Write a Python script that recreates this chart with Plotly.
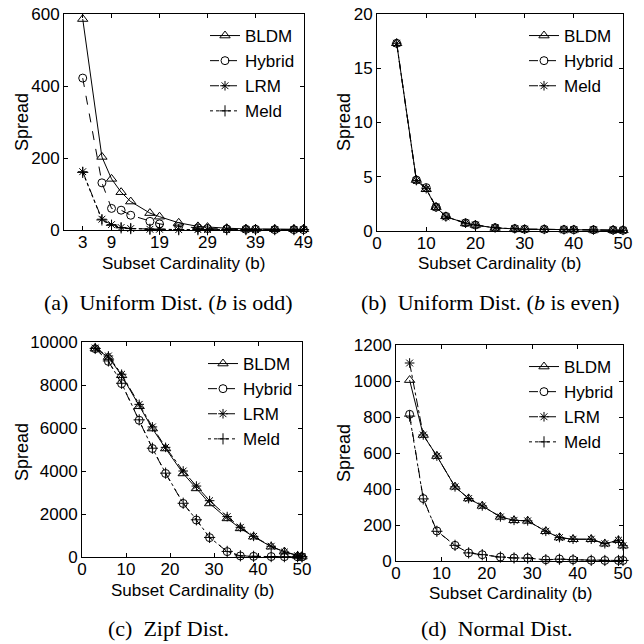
import plotly.graph_objects as go

# ---------------- data ----------------
x_odd = [3, 7, 9, 11, 13, 17, 19, 23, 27, 29, 33, 37, 39, 43, 47, 49]
a_bldm = [586, 203, 142, 105, 79, 47, 37, 20, 10, 8, 5, 3, 3, 2, 2, 2]
a_hybrid = [422, 131, 60, 55, 41, 24, 17, 10, 6, 4, 3, 2, 2, 1, 1, 1]
a_lrm = [162, 30, 15, 7, 4, 2, 2, 1, 1, 1, 1, 1, 1, 1, 1, 1]
a_meld = [160, 28, 13, 6, 4, 2, 2, 1, 1, 1, 1, 1, 1, 1, 1, 1]

x_even = [4, 8, 10, 12, 14, 18, 20, 24, 28, 30, 34, 38, 40, 44, 48, 50]
b_bldm = [17.3, 4.7, 3.85, 2.2, 1.35, 0.7, 0.55, 0.28, 0.2, 0.15, 0.15, 0.12, 0.12, 0.1, 0.08, 0.06]
b_hybrid = [17.3, 4.7, 4.0, 2.2, 1.35, 0.75, 0.55, 0.3, 0.22, 0.17, 0.16, 0.13, 0.12, 0.11, 0.09, 0.07]
b_meld = [17.3, 4.65, 3.9, 2.2, 1.3, 0.72, 0.55, 0.29, 0.21, 0.16, 0.15, 0.12, 0.12, 0.1, 0.08, 0.06]

x_b = [3, 6, 9, 13, 16, 19, 23, 26, 29, 33, 36, 39, 43, 46, 49, 50]
c_bldm = [9690, 9300, 8450, 7010, 5975, 5046, 3885, 3190, 2490, 1795, 1330, 944, 480, 250, 50, 15]
c_hybrid = [9690, 9100, 8065, 6360, 5046, 3885, 2490, 1720, 900, 250, 50, 30, 20, 15, 10, 5]
c_lrm = [9720, 9350, 8500, 7100, 6050, 5100, 4000, 3300, 2620, 1880, 1380, 960, 500, 230, 60, 20]
c_meld = [9700, 9120, 8080, 6380, 5060, 3900, 2500, 1730, 910, 260, 55, 30, 20, 15, 10, 5]

d_bldm = [1005, 700, 583, 412, 347, 306, 245, 226, 223, 165, 130, 121, 121, 96, 115, 85]
d_hybrid = [815, 347, 167, 87, 45, 35, 22, 17, 17, 7, 11, 7, 4, 3, 3, 3]
d_lrm = [1100, 700, 583, 412, 347, 306, 245, 226, 223, 165, 130, 121, 121, 96, 115, 85]
d_meld = [805, 345, 165, 87, 45, 35, 22, 17, 16, 7, 10, 7, 4, 3, 3, 3]

captions = ["(a)  Uniform Dist. (<i>b</i> is odd)", "(b)  Uniform Dist. (<i>b</i> is even)",
            "(c)  Zipf Dist.", "(d)  Normal Dist."]
x_title = "Subset Cardinality (b)"
y_title = "Spread"

# ---------------- styles / layout helpers ----------------
STY = {
    "BLDM": dict(dash="solid", symbol="triangle-up-open", size=9),
    "Hybrid": dict(dash="dash", symbol="circle-open", size=8),
    "LRM": dict(dash="dashdot", symbol="asterisk-open", size=8),
    "Meld": dict(dash="dot", symbol="cross-thin-open", size=8),
}
SANS = "Liberation Sans, Arial, sans-serif"
SERIF = "Liberation Serif, Times New Roman, serif"
W = 644
OFF = 8  # page body margin


def px(x):
    return (x - OFF) / W


def py(y):
    return 1 - (y - OFF) / W


fig = go.Figure()

panels = [
    dict(x=x_odd, series=[("BLDM", a_bldm, "BLDM"), ("Hybrid", a_hybrid, "Hybrid"),
                          ("LRM", a_lrm, "LRM"), ("Meld", a_meld, "Meld")],
         box=(64, 14, 304, 230),
         xr=[-0.9, 49.1], yr=[0, 600], xt=[3, 9, 19, 29, 39, 49], yt=[0, 200, 400, 600]),
    dict(x=x_even, series=[("BLDM", b_bldm, "BLDM"), ("Hybrid", b_hybrid, "Hybrid"),
                           ("Meld", b_meld, "LRM")],
         box=(377, 14, 623, 231),
         xr=[0, 50], yr=[0, 20], xt=[0, 10, 20, 30, 40, 50], yt=[0, 5, 10, 15, 20]),
    dict(x=x_b, series=[("BLDM", c_bldm, "BLDM"), ("Hybrid", c_hybrid, "Hybrid"),
                        ("LRM", c_lrm, "LRM"), ("Meld", c_meld, "Meld")],
         box=(82, 342, 302, 557),
         xr=[0, 50], yr=[0, 10000], xt=[0, 10, 20, 30, 40, 50],
         yt=[0, 2000, 4000, 6000, 8000, 10000]),
    dict(x=x_b, series=[("BLDM", d_bldm, "BLDM"), ("Hybrid", d_hybrid, "Hybrid"),
                        ("LRM", d_lrm, "LRM"), ("Meld", d_meld, "Meld")],
         box=(396, 345, 623, 561),
         xr=[0, 50], yr=[0, 1200], xt=[0, 10, 20, 30, 40, 50],
         yt=[0, 200, 400, 600, 800, 1000, 1200]),
]

layout = dict(
    width=W, height=W, autosize=False,
    margin=dict(l=0, r=0, t=0, b=0, autoexpand=False),
    paper_bgcolor="white", plot_bgcolor="white",
    font=dict(family=SANS, size=17, color="black"),
    showlegend=True,
)

annotations = []
caption_pos = [(168, 302), (490, 302), (168, 628), (497, 628)]
xtitle_pos = [(183, 263), (499, 263), (192, 590), (510, 593)]
ytitle_pos = [(22, 122), (344, 122), (22, 452), (344, 453)]

for i, p in enumerate(panels):
    n = i + 1
    xa = "x" if n == 1 else f"x{n}"
    ya = "y" if n == 1 else f"y{n}"
    lg = "legend" if n == 1 else f"legend{n}"
    for name, vals, style in p["series"]:
        s = STY[style]
        fig.add_trace(go.Scatter(
            x=p["x"], y=vals, name=name, mode="lines+markers",
            xaxis=xa, yaxis=ya, legend=lg, legendgroup=f"{n}{name}",
            line=dict(color="black", width=1, dash=s["dash"]),
            marker=dict(symbol=s["symbol"], size=s["size"], color="black",
                        line=dict(color="black", width=1)),
            cliponaxis=False,
        ))
    l, t, r, b = p["box"]
    axcommon = dict(showline=True, linecolor="black", linewidth=1, mirror="ticks",
                    ticks="inside", ticklen=4, tickcolor="black", showgrid=False,
                    zeroline=False, automargin=False, tickformat="d",
                    ticklabeloverflow="allow",
                    tickfont=dict(family=SANS, size=17, color="black"))
    layout["xaxis" if n == 1 else f"xaxis{n}"] = dict(
        domain=[px(l), px(r)], range=p["xr"], tickmode="array", tickvals=p["xt"],
        anchor=ya, ticklabelstandoff=-3, **axcommon)
    layout["yaxis" if n == 1 else f"yaxis{n}"] = dict(
        domain=[py(b), py(t)], range=p["yr"], tickmode="array", tickvals=p["yt"],
        anchor=xa, **axcommon)
    layout[lg] = dict(
        x=px(r - 4), y=py(t + 4), xanchor="right", yanchor="top",
        bgcolor="rgba(0,0,0,0)", borderwidth=0, itemwidth=30,
        tracegroupgap=0, font=dict(family=SANS, size=17, color="black"),
    )
    cx, cy = caption_pos[i]
    annotations.append(dict(text=captions[i], x=px(cx), y=py(cy),
                            xanchor="center", yanchor="middle",
                            xref="paper", yref="paper", showarrow=False,
                            font=dict(family=SERIF, size=22, color="black")))
    tx, ty = xtitle_pos[i]
    annotations.append(dict(text=x_title, x=px(tx), y=py(ty),
                            xanchor="center", yanchor="middle",
                            xref="paper", yref="paper", showarrow=False,
                            font=dict(family=SANS, size=17, color="black")))
    yx, yy = ytitle_pos[i]
    annotations.append(dict(text=y_title, x=px(yx), y=py(yy), textangle=-90,
                            xanchor="center", yanchor="middle",
                            xref="paper", yref="paper", showarrow=False,
                            font=dict(family=SANS, size=18, color="black")))

layout["annotations"] = annotations
fig.update_layout(**layout)
fig.write_html("out.html")
